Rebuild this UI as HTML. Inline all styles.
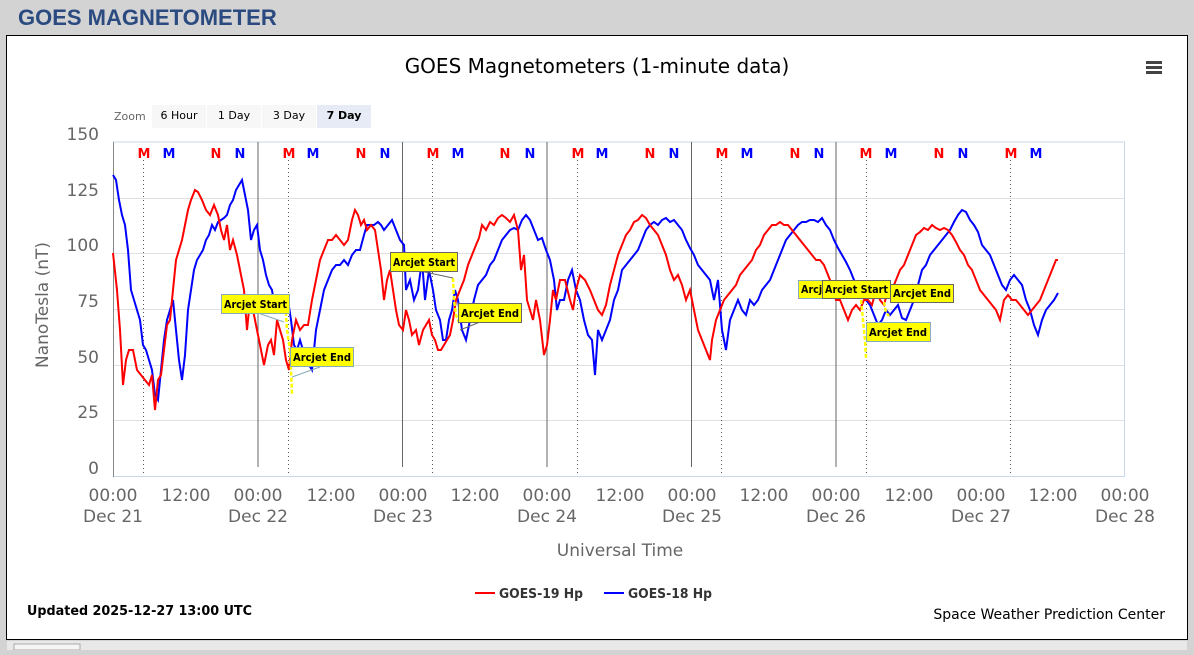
<!DOCTYPE html>
<html><head><meta charset="utf-8"><style>
body{margin:0;width:1194px;height:650px;background:#d3d3d3;overflow:hidden;font-family:"Liberation Sans",sans-serif}
</style></head><body>
<svg width="1194" height="650" xmlns="http://www.w3.org/2000/svg" font-family="DejaVu Sans, sans-serif">
<rect x="0" y="0" width="1194" height="650" fill="#d3d3d3"/>
<text x="18" y="25" font-size="22" font-weight="bold" fill="#2a4a80" font-family="Liberation Sans, sans-serif">GOES MAGNETOMETER</text>
<rect x="6.5" y="35.5" width="1181" height="604" fill="#fff" stroke="#000" stroke-width="1"/>
<rect x="7" y="641" width="1180" height="9" fill="#e8e8e8"/>
<rect x="14" y="644" width="66" height="6" fill="#f5f5f5" stroke="#aaa"/>
<text x="597" y="73" font-size="20" text-anchor="middle" fill="#000">GOES Magnetometers (1-minute data)</text>
<g fill="#444"><rect x="1146" y="61" width="16" height="3"/><rect x="1146" y="66" width="16" height="3"/><rect x="1146" y="71" width="16" height="3"/></g>
<text x="114" y="120" font-size="11" fill="#666">Zoom</text>
<rect x="152" y="105" width="54" height="23" fill="#f7f7f7"/><text x="179" y="119" font-size="11" text-anchor="middle">6 Hour</text>
<rect x="207" y="105" width="54" height="23" fill="#f7f7f7"/><text x="234" y="119" font-size="11" text-anchor="middle">1 Day</text>
<rect x="262" y="105" width="54" height="23" fill="#f7f7f7"/><text x="289" y="119" font-size="11" text-anchor="middle">3 Day</text>
<rect x="317" y="105" width="54" height="23" fill="#e6ebf5"/><text x="344" y="119" font-size="11" text-anchor="middle" font-weight="bold">7 Day</text>
<g stroke="#e0e0e0" stroke-width="1">
<line x1="113" x2="1125" y1="198.5" y2="198.5"/><line x1="113" x2="1125" y1="253.5" y2="253.5"/><line x1="113" x2="1125" y1="309.5" y2="309.5"/><line x1="113" x2="1125" y1="365.5" y2="365.5"/><line x1="113" x2="1125" y1="420.5" y2="420.5"/>
</g>
<rect x="113.5" y="142" width="1011" height="334.5" fill="none" stroke="#ccd6eb"/>
<line x1="113.5" y1="142" x2="113.5" y2="477" stroke="#888"/>
<g font-size="17" fill="#666" text-anchor="end">
<text x="99" y="140">150</text><text x="99" y="196">125</text><text x="99" y="251">100</text><text x="99" y="307">75</text><text x="99" y="363">50</text><text x="99" y="418">25</text><text x="99" y="474">0</text>
</g>
<text transform="translate(48,305) rotate(-90)" font-size="17" fill="#666" text-anchor="middle">NanoTesla (nT)</text>
<g stroke="#666" stroke-width="1">
<line x1="258" x2="258" y1="142" y2="467"/><line x1="402.5" x2="402.5" y1="142" y2="467"/><line x1="547" x2="547" y1="142" y2="467"/><line x1="691.5" x2="691.5" y1="142" y2="467"/><line x1="836" x2="836" y1="142" y2="467"/>
</g>
<g stroke="#555" stroke-dasharray="1,3">
<line x1="143.5" x2="143.5" y1="160" y2="476"/><line x1="288.5" x2="288.5" y1="160" y2="476"/><line x1="432.5" x2="432.5" y1="160" y2="476"/><line x1="577.5" x2="577.5" y1="160" y2="476"/><line x1="721.5" x2="721.5" y1="160" y2="476"/><line x1="866.5" x2="866.5" y1="160" y2="476"/><line x1="1010.5" x2="1010.5" y1="160" y2="476"/>
</g>
<g font-size="13" font-weight="bold" text-anchor="middle">
<g fill="#f00"><text x="144" y="158">M</text><text x="216" y="158">N</text><text x="289" y="158">M</text><text x="361" y="158">N</text><text x="433" y="158">M</text><text x="505" y="158">N</text><text x="578" y="158">M</text><text x="650" y="158">N</text><text x="722" y="158">M</text><text x="795" y="158">N</text><text x="866" y="158">M</text><text x="939" y="158">N</text><text x="1011" y="158">M</text></g>
<g fill="#00f"><text x="169" y="158">M</text><text x="240" y="158">N</text><text x="313" y="158">M</text><text x="385" y="158">N</text><text x="458" y="158">M</text><text x="530" y="158">N</text><text x="602" y="158">M</text><text x="674" y="158">N</text><text x="747" y="158">M</text><text x="819" y="158">N</text><text x="891" y="158">M</text><text x="963" y="158">N</text><text x="1036" y="158">M</text></g>
</g>
<g font-size="17" fill="#666" text-anchor="middle">
<text x="113" y="501">00:00</text><text x="186" y="501">12:00</text><text x="258" y="501">00:00</text><text x="331" y="501">12:00</text><text x="403" y="501">00:00</text><text x="475" y="501">12:00</text><text x="547" y="501">00:00</text><text x="620" y="501">12:00</text><text x="692" y="501">00:00</text><text x="764" y="501">12:00</text><text x="836" y="501">00:00</text><text x="909" y="501">12:00</text><text x="981" y="501">00:00</text><text x="1053" y="501">12:00</text><text x="1125" y="501">00:00</text>
<text x="113" y="522">Dec 21</text><text x="258" y="522">Dec 22</text><text x="403" y="522">Dec 23</text><text x="547" y="522">Dec 24</text><text x="692" y="522">Dec 25</text><text x="836" y="522">Dec 26</text><text x="981" y="522">Dec 27</text><text x="1125" y="522">Dec 28</text>
<text x="620" y="556" font-size="17">Universal Time</text>
</g>
<polyline fill="none" stroke="#00f" stroke-width="2" points="113,175 116,180 119,200 122,215 125,225 128,250 131,290 134,300 137,310 140,320 143,345 146,350 149,360 152,370 155,395 158,400 161,370 164,340 167,320 170,310 173,300 176,330 179,360 182,380 185,355 188,310 191,290 194,270 197,260 200,255 203,250 206,240 209,235 212,225 215,230 218,222 221,220 224,218 227,215 230,205 233,200 236,190 239,185 242,180 245,195 248,210 251,240 254,230 257,225 260,250 263,260 266,275 269,285 272,290 275,310 278,310 281,310 285,310 288,300 291,320 294,345 297,350 300,340 303,350 306,360 309,365 312,370 316,330 320,310 324,290 328,280 332,270 336,265 340,265 344,260 348,265 352,255 356,250 360,250 364,235 367,225 370,225 374,225 378,222 381,225 384,230 388,225 392,220 396,230 400,240 404,245 406,290 410,280 414,300 418,290 422,260 425,300 429,270 433,290 436,310 440,320 443,340 446,340 449,320 452,310 455,290 458,300 462,330 466,340 470,320 474,300 478,285 482,280 486,275 490,265 494,260 498,250 502,240 506,235 510,230 514,228 518,230 522,220 526,215 530,220 534,230 538,240 542,238 546,250 550,260 554,280 557,310 560,300 564,300 568,280 572,270 576,290 580,300 584,320 588,335 592,340 595,375 598,330 602,340 606,330 610,320 614,300 618,290 622,270 626,265 630,260 634,255 638,250 642,240 646,230 650,225 654,222 658,225 662,220 666,218 670,222 674,220 678,225 682,230 686,240 690,248 694,255 698,265 702,270 706,275 710,280 714,300 718,280 722,330 726,350 730,320 734,310 738,300 742,310 746,315 750,300 754,305 758,300 762,290 766,285 770,280 774,270 778,260 782,250 786,240 790,235 794,230 798,225 802,222 806,222 810,220 814,220 818,222 822,218 826,225 830,230 834,240 838,248 842,255 846,262 850,270 854,280 858,285 862,290 866,300 870,305 874,315 878,325 882,320 886,310 890,315 894,310 898,305 902,318 906,320 910,310 914,300 918,285 922,270 926,265 930,255 934,250 938,245 942,240 946,235 950,230 954,222 958,215 962,210 966,212 970,220 974,225 978,232 982,245 986,250 990,255 994,265 998,275 1002,285 1006,290 1010,280 1014,275 1018,280 1022,285 1026,300 1030,310 1034,325 1038,335 1042,320 1046,310 1050,305 1054,300 1058,293"/>
<polyline fill="none" stroke="#f00" stroke-width="2" points="113,253 117,290 120,330 123,385 126,360 129,350 133,350 137,370 141,375 145,380 149,385 152,375 155,410 158,380 161,375 164,350 167,325 170,320 173,290 176,260 179,250 182,240 185,225 188,210 191,200 195,190 198,192 202,200 206,210 210,215 214,205 218,215 221,230 224,240 227,225 230,250 233,240 237,255 240,270 244,290 247,330 250,300 253,310 256,325 260,345 264,365 268,345 271,340 274,355 277,320 280,330 283,340 286,360 289,370 292,340 296,320 300,330 304,325 308,325 312,300 316,280 320,260 324,250 328,240 332,240 336,235 340,240 344,245 348,240 352,220 355,210 358,215 361,225 364,220 367,230 371,225 375,230 378,250 381,270 384,300 387,280 390,270 393,290 396,310 399,325 403,330 406,310 409,320 412,335 416,330 419,345 423,330 426,325 429,320 432,335 435,340 438,350 441,350 444,345 447,340 450,335 453,320 456,300 460,290 464,280 468,265 472,255 476,245 479,238 482,225 486,230 490,222 494,225 498,218 502,215 506,218 510,222 514,215 518,230 521,270 524,255 527,300 530,310 533,320 536,300 540,320 544,355 547,345 550,320 553,290 556,300 560,280 565,280 570,300 573,310 576,290 580,275 585,280 590,290 594,300 598,310 602,315 606,305 610,285 614,270 618,255 622,245 626,235 630,230 634,222 638,220 642,215 646,218 650,225 654,230 658,235 662,245 666,255 670,270 674,280 678,275 682,285 686,300 690,290 694,310 698,330 702,340 706,350 710,360 712,340 716,320 720,310 724,300 728,295 732,290 736,285 740,275 744,270 748,265 752,260 756,250 760,245 764,235 768,230 772,225 776,225 780,222 784,225 788,225 792,230 796,235 800,240 804,245 808,250 812,255 816,260 820,260 824,265 828,275 832,285 836,300 840,300 844,310 848,320 852,310 856,305 860,310 864,300 868,300 872,305 876,290 880,300 884,305 888,290 892,290 896,280 900,270 904,265 908,255 912,245 916,235 920,232 924,228 928,230 932,225 936,228 940,230 944,228 948,230 952,235 956,242 960,250 964,255 968,265 972,270 976,280 980,290 984,295 988,300 992,305 996,310 1000,320 1004,300 1008,295 1012,300 1016,300 1020,305 1024,310 1028,315 1032,310 1036,305 1040,300 1044,290 1048,280 1052,270 1056,260 1058,260"/>
<g fill="none" stroke="#ff0" stroke-width="2.5" stroke-dasharray="4,2">
<polyline points="285,300 287,330 290,350 291,370 292,395"/>
<polyline points="453,278 454,300 456,315 460,325"/>
<polyline points="861,300 863,320 865,340 866,358"/>
<polyline points="884,302 886,312 889,316"/>
</g>
<g stroke-width="1">
<line x1="258" y1="313" x2="284" y2="322" stroke="#8ab"/>
<line x1="292" y1="377" x2="320" y2="367" stroke="#8ab"/>
<line x1="420" y1="271" x2="453" y2="278" stroke="#666"/>
<line x1="460" y1="330" x2="480" y2="322" stroke="#666"/>
</g>
<g font-size="11" font-weight="bold">
<rect x="221.5" y="294.5" width="68" height="19" fill="#ff0" stroke="#8ab"/><text x="224" y="308" textLength="63" lengthAdjust="spacingAndGlyphs">Arcjet Start</text>
<rect x="290.5" y="347.5" width="63" height="19" fill="#ff0" stroke="#8ab"/><text x="293" y="361" textLength="58" lengthAdjust="spacingAndGlyphs">Arcjet End</text>
<rect x="390.5" y="252.5" width="67" height="19" fill="#ff0" stroke="#666"/><text x="393" y="266" textLength="62" lengthAdjust="spacingAndGlyphs">Arcjet Start</text>
<rect x="458.5" y="303.5" width="63" height="19" fill="#ff0" stroke="#666"/><text x="461" y="317" textLength="58" lengthAdjust="spacingAndGlyphs">Arcjet End</text>
<rect x="798.5" y="280.5" width="68" height="18" fill="#ff0" stroke="#8ab"/><text x="801" y="293" textLength="63" lengthAdjust="spacingAndGlyphs">Arcjet Start</text>
<rect x="822.5" y="280.5" width="68" height="18" fill="#ff0" stroke="#666"/><text x="825" y="293" textLength="63" lengthAdjust="spacingAndGlyphs">Arcjet Start</text>
<rect x="890.5" y="284.5" width="63" height="18" fill="#ff0" stroke="#666"/><text x="893" y="297" textLength="58" lengthAdjust="spacingAndGlyphs">Arcjet End</text>
<rect x="866.5" y="322.5" width="64" height="19" fill="#ff0" stroke="#8ab"/><text x="869" y="336" textLength="58" lengthAdjust="spacingAndGlyphs">Arcjet End</text>
</g>
<line x1="475" y1="593" x2="495" y2="593" stroke="#f00" stroke-width="2"/>
<text x="499" y="598" font-size="13" font-weight="bold" fill="#333" textLength="84" lengthAdjust="spacingAndGlyphs">GOES-19 Hp</text>
<line x1="604" y1="593" x2="624" y2="593" stroke="#00f" stroke-width="2"/>
<text x="628" y="598" font-size="13" font-weight="bold" fill="#333" textLength="84" lengthAdjust="spacingAndGlyphs">GOES-18 Hp</text>
<text x="27" y="615" font-size="13" font-weight="bold" fill="#000" textLength="225" lengthAdjust="spacingAndGlyphs">Updated 2025-12-27 13:00 UTC</text>
<text x="1165" y="619" font-size="14" text-anchor="end" fill="#000">Space Weather Prediction Center</text>
</svg>
</body></html>
